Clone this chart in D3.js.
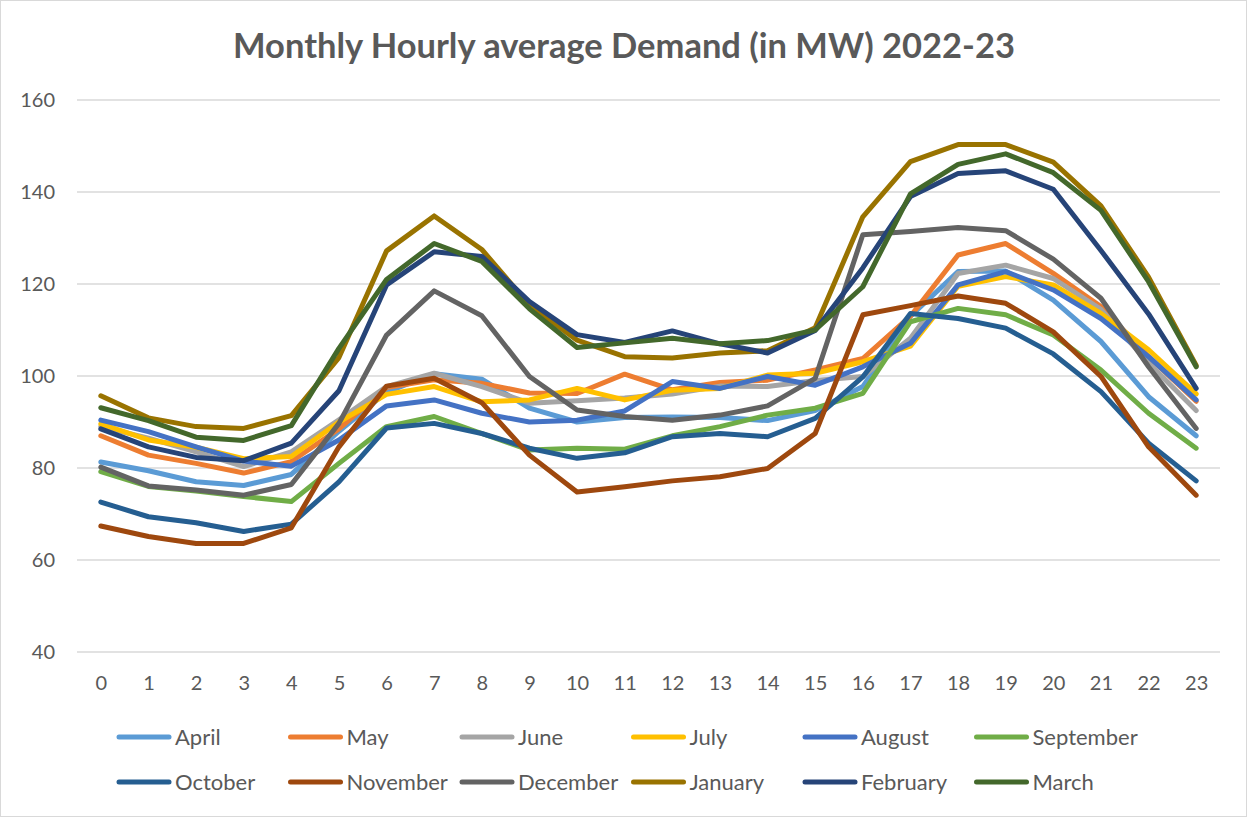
<!DOCTYPE html>
<html>
<head>
<meta charset="utf-8">
<script src="https://cdn.jsdelivr.net/npm/d3@7"></script>
<style>
  body { margin: 0; background: #fff; }
  svg { display: block; font-family: Lato, "Open Sans", sans-serif; }
</style>
</head>
<body>
<svg width="1247" height="817"></svg>
<script>
var hours = d3.range(0, 24);
var yTicks = [40, 60, 80, 100, 120, 140, 160];

var months = ["April", "May", "June", "July", "August", "September",
  "October", "November", "December", "January", "February", "March"];

var colors = ["#5B9BD5", "#ED7D31", "#A5A5A5", "#FFC000", "#4472C4", "#70AD47",
  "#255E91", "#9E480E", "#636363", "#997300", "#264478", "#43682B"];

var april     = [81.3, 79.4, 77.0, 76.2, 78.6, 88.0, 96.5, 100.5, 99.3, 93.0, 90.0, 91.0, 91.1, 91.0, 90.3, 92.5, 97.7, 113.0, 122.7, 122.8, 116.5, 107.5, 95.5, 87.0];
var may       = [87.0, 82.8, 81.0, 78.9, 81.4, 88.5, 97.5, 99.2, 98.4, 96.3, 96.2, 100.4, 97.0, 98.6, 99.1, 101.3, 103.8, 113.0, 126.3, 128.8, 122.3, 115.1, 104.2, 94.5];
var june      = [89.0, 86.5, 83.5, 80.3, 83.5, 90.5, 97.7, 100.6, 97.7, 94.1, 94.6, 95.2, 96.1, 97.8, 97.7, 99.0, 99.9, 108.2, 122.3, 124.1, 121.2, 114.5, 102.8, 92.5];
var july      = [89.6, 86.1, 84.5, 82.0, 82.5, 90.0, 96.0, 97.7, 94.4, 94.8, 97.3, 94.8, 96.9, 97.3, 100.2, 100.6, 103.1, 106.5, 119.5, 121.6, 119.8, 113.6, 105.7, 96.1];
var august    = [90.4, 87.9, 84.6, 81.5, 80.4, 86.1, 93.5, 94.8, 91.9, 90.0, 90.4, 92.4, 98.8, 97.3, 99.9, 98.0, 102.0, 107.1, 119.8, 122.7, 118.7, 112.5, 104.2, 94.8];
var september = [79.2, 76.0, 75.0, 73.8, 72.7, 81.0, 89.0, 91.2, 87.5, 83.9, 84.3, 84.1, 87.0, 89.0, 91.5, 93.0, 96.2, 111.8, 114.7, 113.3, 108.9, 101.3, 91.9, 84.3];
var october   = [72.6, 69.4, 68.1, 66.2, 67.8, 77.0, 88.7, 89.7, 87.5, 84.3, 82.1, 83.3, 86.8, 87.5, 86.8, 90.8, 99.8, 113.6, 112.5, 110.4, 104.8, 96.6, 85.4, 77.2];
var november  = [67.4, 65.1, 63.6, 63.6, 67.0, 84.6, 97.8, 99.5, 94.2, 82.8, 74.8, 75.9, 77.2, 78.1, 79.9, 87.5, 113.3, 115.3, 117.4, 115.8, 109.6, 99.9, 84.6, 74.1];
var december  = [80.2, 76.1, 75.2, 74.1, 76.4, 89.7, 108.9, 118.5, 113.1, 99.9, 92.6, 91.2, 90.4, 91.5, 93.5, 99.5, 130.7, 131.4, 132.3, 131.6, 125.4, 116.9, 102.0, 88.6];
var january   = [95.7, 90.9, 89.0, 88.6, 91.4, 104.0, 127.2, 134.8, 127.5, 115.4, 107.8, 104.2, 103.9, 105.0, 105.5, 110.5, 134.6, 146.6, 150.3, 150.3, 146.5, 137.0, 121.5, 102.3];
var february  = [88.5, 84.6, 82.3, 81.6, 85.4, 96.8, 119.8, 127.0, 126.0, 116.2, 109.0, 107.3, 109.8, 107.0, 105.0, 109.9, 123.5, 139.0, 144.0, 144.6, 140.6, 127.3, 113.5, 97.3];
var march     = [93.1, 90.3, 86.7, 86.0, 89.2, 106.0, 121.0, 128.8, 124.9, 114.6, 106.2, 107.2, 108.2, 107.0, 107.7, 110.0, 119.4, 139.6, 146.0, 148.3, 144.2, 136.0, 120.5, 102.0];

var values = [april, may, june, july, august, september, october, november, december, january, february, march];
var series = months.map(function(m, i) { return {name: m, color: colors[i], values: values[i]}; });

var svg = d3.select("svg"),
    width = +svg.attr("width"),
    height = +svg.attr("height"),
    textColor = "#595959";

// chart border
svg.append("rect")
    .attr("x", 0.5).attr("y", 0.5)
    .attr("width", width - 1).attr("height", height - 1)
    .attr("fill", "#fff")
    .attr("stroke", "#D9D9D9");

var x = d3.scalePoint()
    .domain(hours)
    .range([77, 1220])
    .padding(0.5);

var y = d3.scaleLinear()
    .domain([40, 160])
    .range([652, 100]);

// gridlines
svg.append("g")
  .selectAll("line")
  .data(yTicks)
  .enter().append("line")
    .attr("x1", 77).attr("x2", 1220)
    .attr("y1", function(d) { return y(d); })
    .attr("y2", function(d) { return y(d); })
    .attr("stroke", "#D9D9D9")
    .attr("stroke-width", 1.5);

// y axis
var yAxis = svg.append("g")
    .attr("transform", "translate(55,0)")
    .call(d3.axisLeft(y).tickValues(yTicks).tickSize(0).tickPadding(0));
yAxis.select(".domain").remove();
yAxis.selectAll("text")
    .attr("fill", textColor)
    .attr("font-size", 20)
    .attr("font-family", "Lato, sans-serif");

// x axis
var xAxis = svg.append("g")
    .attr("transform", "translate(0,652)")
    .call(d3.axisBottom(x).tickSize(0).tickPadding(0));
xAxis.select(".domain").remove();
xAxis.selectAll("text")
    .attr("y", 38)
    .attr("dy", 0)
    .attr("fill", textColor)
    .attr("font-size", 20)
    .attr("font-family", "Lato, sans-serif");

// lines
var line = d3.line()
    .x(function(d, i) { return x(hours[i]); })
    .y(function(d) { return y(d); });

svg.append("g")
  .selectAll("path")
  .data(series)
  .enter().append("path")
    .attr("d", function(d) { return line(d.values); })
    .attr("fill", "none")
    .attr("stroke", function(d) { return d.color; })
    .attr("stroke-width", 5)
    .attr("stroke-linejoin", "round")
    .attr("stroke-linecap", "round");

// title
var title = svg.append("text")
    .attr("x", 624)
    .attr("y", 58)
    .attr("text-anchor", "middle")
    .attr("font-weight", "bold")
    .attr("font-size", 28)
    .attr("fill", textColor)
    .text("Monthly Hourly average Demand (in MW) 2022-23");
var tw = title.node().getComputedTextLength();
title.attr("font-size", 28 * 782 / tw);

// legend
var legend = svg.append("g")
    .selectAll("g")
    .data(series)
    .enter().append("g")
      .attr("transform", function(d, i) {
        return "translate(" + (119 + (i % 6) * 171.5) + "," + (737 + Math.floor(i / 6) * 45) + ")";
      });

legend.append("line")
    .attr("x1", 0).attr("x2", 50)
    .attr("stroke", function(d) { return d.color; })
    .attr("stroke-width", 5)
    .attr("stroke-linecap", "round");

legend.append("text")
    .attr("x", 56)
    .attr("dy", "0.35em")
    .attr("fill", textColor)
    .attr("font-size", 22)
    .text(function(d) { return d.name; });
</script>
</body>
</html>
